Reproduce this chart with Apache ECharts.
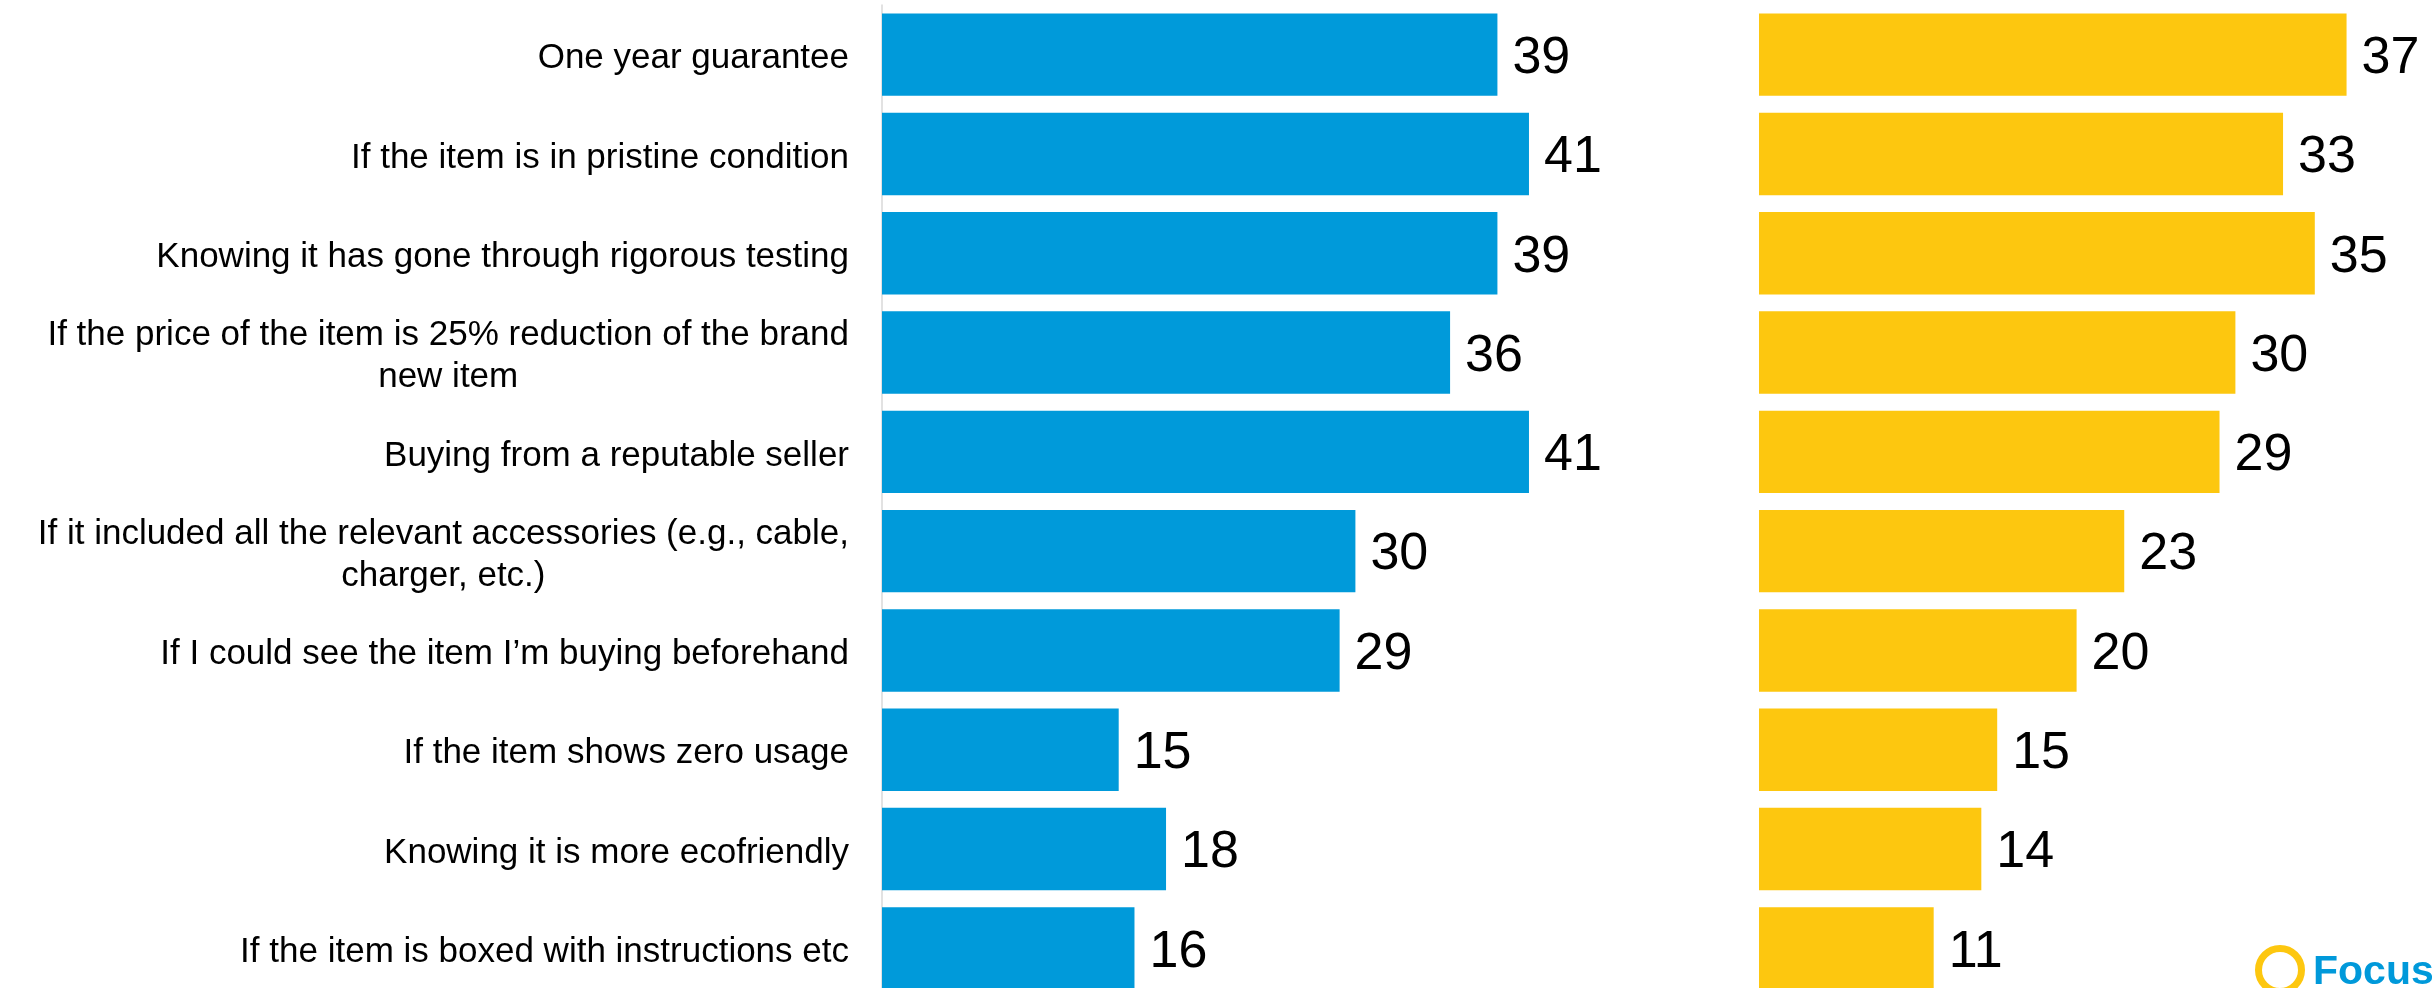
<!DOCTYPE html>
<html>
<head>
<meta charset="utf-8">
<script src="https://cdn.jsdelivr.net/npm/echarts@6/dist/echarts.min.js"></script>
<style>
  html, body { margin: 0; padding: 0; background: #ffffff; }
  #chart { width: 2432px; height: 988px; }
</style>
</head>
<body>
<div id="chart"></div>
<script>
const categories = [
  "One year guarantee",
  "If the item is in pristine condition",
  "Knowing it has gone through rigorous testing",
  "If the price of the item is 25% reduction of the brand new item",
  "Buying from a reputable seller",
  "If it included all the relevant accessories (e.g., cable, charger, etc.)",
  "If I could see the item I’m buying beforehand",
  "If the item shows zero usage",
  "Knowing it is more ecofriendly",
  "If the item is boxed with instructions etc"
];
const blueValues = [39, 41, 39, 36, 41, 30, 29, 15, 18, 16];
const yellowValues = [37, 33, 35, 30, 29, 23, 20, 15, 14, 11];

const LABEL_FONT = '"Liberation Sans", Arial, sans-serif';
const LABEL_SIZE = 35;
const measureCtx = document.createElement('canvas').getContext('2d');
measureCtx.font = LABEL_SIZE + 'px ' + LABEL_FONT;
function wrapText(text, maxW) {
  const words = text.split(' ');
  const lines = [];
  let cur = '';
  words.forEach(function (w) {
    const test = cur ? cur + ' ' + w : w;
    if (cur && measureCtx.measureText(test).width > maxW) {
      lines.push(cur);
      cur = w;
    } else {
      cur = test;
    }
  });
  if (cur) lines.push(cur);
  return lines;
}

const chart = echarts.init(document.getElementById('chart'), null, { renderer: 'canvas' });

const valueLabel = {
  show: true,
  position: 'right',
  distance: 15,
  offset: [0, 4],
  fontSize: 52,
  fontFamily: LABEL_FONT,
  color: '#000000'
};

const option = {
  backgroundColor: '#ffffff',
  animation: false,
  grid: [
    { left: 882, top: 5, width: 789, height: 993, containLabel: false, outerBoundsMode: 'none' },
    { left: 1759, top: 5, width: 794, height: 993, containLabel: false, outerBoundsMode: 'none' }
  ],
  xAxis: [
    { type: 'value', gridIndex: 0, min: 0, max: 50, show: false },
    { type: 'value', gridIndex: 1, min: 0, max: 50, show: false }
  ],
  yAxis: [
    {
      type: 'category', gridIndex: 0, data: categories, inverse: true,
      axisLine: { show: true, lineStyle: { color: '#d9d9d9', width: 1.5 } },
      axisTick: { show: false },
      splitLine: { show: false },
      axisLabel: {
        margin: 33,
        interval: 0,
        padding: [8, 0, 0, 0],
        formatter: function (v) {
          return wrapText(v, 845).map(function (l) { return '{c|' + l + '}'; }).join('\n');
        },
        rich: {
          c: { fontSize: LABEL_SIZE, fontFamily: LABEL_FONT, color: '#000000', align: 'center', lineHeight: 42 }
        }
      }
    },
    {
      type: 'category', gridIndex: 1, data: categories, inverse: true,
      axisLine: { show: false }, axisTick: { show: false }, axisLabel: { show: false }, splitLine: { show: false }
    }
  ],
  series: [
    {
      name: 'Blue', type: 'bar', xAxisIndex: 0, yAxisIndex: 0,
      data: blueValues, barCategoryGap: '17%',
      itemStyle: { color: '#009ADA' },
      label: valueLabel
    },
    {
      name: 'Yellow', type: 'bar', xAxisIndex: 1, yAxisIndex: 1,
      data: yellowValues, barCategoryGap: '17%',
      itemStyle: { color: '#FDC70F' },
      label: valueLabel
    }
  ],
  graphic: [
    { type: 'circle', shape: { cx: 2280, cy: 970, r: 21.5 }, style: { fill: 'none', stroke: '#FDC70F', lineWidth: 7 }, z: 10 },
    { type: 'text', x: 2313, y: 973, z: 10,
      style: { text: 'Focus', fontSize: 41, fontWeight: 'bold', fontFamily: LABEL_FONT, fill: '#0099DA', verticalAlign: 'middle', align: 'left' } }
  ]
};
chart.setOption(option);
</script>
</body>
</html>
